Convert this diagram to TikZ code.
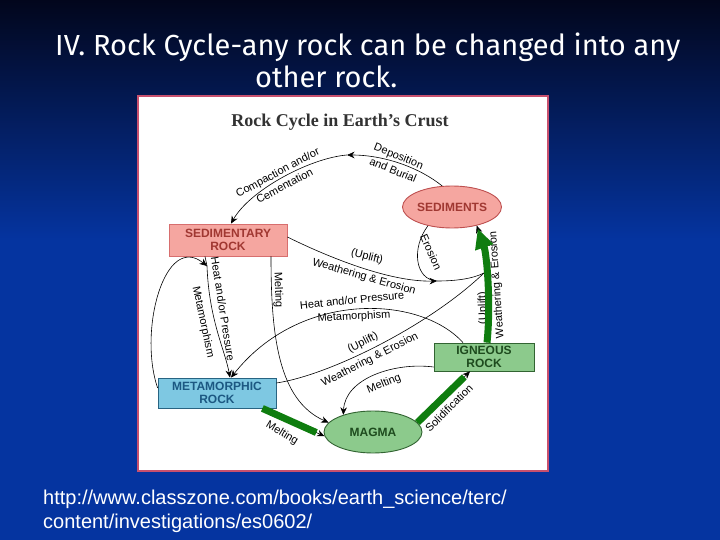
\documentclass[tikz,border=0pt]{standalone}
\usepackage{fontspec}
\setmainfont{Liberation Sans}
\newfontfamily\serifb{Liberation Serif}
\newfontfamily\titlef{Fira Sans}
\usetikzlibrary{arrows.meta,shapes.geometric,calc}
\definecolor{bgtop}{RGB}{2,6,28}
\definecolor{bgbot}{RGB}{5,52,160}
\definecolor{framec}{RGB}{200,80,110}
\definecolor{sedfill}{RGB}{245,166,160}
\definecolor{seddraw}{RGB}{190,80,80}
\definecolor{sedbox}{RGB}{215,110,110}
\definecolor{sedtext}{RGB}{160,56,50}
\definecolor{metfill}{RGB}{126,200,226}
\definecolor{metdraw}{RGB}{40,100,130}
\definecolor{mettext}{RGB}{28,88,130}
\definecolor{ignfill}{RGB}{140,202,140}
\definecolor{igndraw}{RGB}{50,100,50}
\definecolor{igntext}{RGB}{30,75,30}
\definecolor{gthick}{RGB}{15,125,15}
\definecolor{ttl}{RGB}{50,50,50}
\tikzset{
  conn/.style={draw=black, line width=0.6pt, -{Stealth[length=7.5pt,width=6.5pt]}},
  plain/.style={draw=black, line width=0.6pt},
  lbl/.style={font=\fontsize{11}{15}\selectfont, inner sep=0pt, align=center},
  gline/.style={draw=gthick, line width=7pt},
  nodetxt/.style={font=\bfseries\fontsize{12}{13}\selectfont, align=center, inner sep=0pt},
  ellnode/.style={ellipse, nodetxt, line width=0.9pt, minimum width=98pt, minimum height=42pt},
  boxnode/.style={rectangle, nodetxt, line width=0.8pt},
  slidetxt/.style={anchor=base west, text=white, inner sep=0pt}
}
\begin{document}
\begin{tikzpicture}[x=1pt,y=-1pt]
\useasboundingbox (0,0) rectangle (720,540);
% background
\shade[top color=bgtop, bottom color=bgbot] (0,0) rectangle (720,240);
\fill[bgbot] (0,239.5) rectangle (720,540);
% slide title
\node[slidetxt, font=\titlef\fontsize{29}{32}\selectfont] (t1) at (55,56) {IV. Rock Cycle-any rock can be changed into any};
\node[slidetxt, font=\titlef\fontsize{29}{32}\selectfont] (t2) at (255,88) {other rock.};
% url
\node[slidetxt, font=\fontsize{20}{23}\selectfont] (u1) at (43,504) {http://www.classzone.com/books/earth\_science/terc/};
\node[slidetxt, font=\fontsize{20}{23}\selectfont] (u2) at (43,528) {content/investigations/es0602/};
% diagram frame
\draw[framec, line width=1.5pt, fill=white] (138,96) rectangle (548,471);
\node[font=\serifb\bfseries\fontsize{18}{20}\selectfont, text=ttl, inner sep=0pt] (dt) at (340,122) {Rock Cycle in Earth’s Crust};
% nodes
\node[ellnode, fill=sedfill, draw=seddraw, text=sedtext] (sed) at (452,207) {SEDIMENTS};
\node[boxnode, fill=sedfill, draw=sedbox, text=sedtext, minimum width=118pt, minimum height=32pt] (sedr) at (228,240) {SEDIMENTARY\\ROCK};
\node[boxnode, fill=metfill, draw=metdraw, text=mettext, minimum width=118pt, minimum height=30pt] (met) at (217,393) {METAMORPHIC\\ROCK};
\node[boxnode, fill=ignfill, draw=igndraw, text=igntext, minimum width=100pt, minimum height=28pt] (ign) at (484,357) {IGNEOUS\\ROCK};
\node[ellnode, fill=ignfill, draw=igndraw, text=igntext] (mag) at (373,432) {MAGMA};
% junctions
\coordinate (dep) at (347,155);
\coordinate (jA) at (437,281);
\coordinate (jB) at (484,273);
\coordinate (jC) at (207,266);
% 1 sediments -> sedimentary rock
\draw[conn] (sed.115) .. controls (420,168) and (385,155) .. (dep);
\draw[conn] (dep) .. controls (310,158) and (250,190) .. ($(sedr.north)+(3,0)$);
\node[lbl, rotate=-22] (l1) at (396,163) {Deposition\\and Burial};
\node[lbl, rotate=28] (l2) at (281,179) {Compaction and/or\\Cementation};
% 2 sedimentary rock -> weathering
\draw[conn] ($(sedr.east)+(0,-3)$) .. controls (330,258) and (390,282) .. (jA);
\draw[plain] (jA) .. controls (455,281) and (472,279) .. (jB);
\node[lbl, rotate=-14] (l3) at (367,257) {(Uplift)};
\node[lbl, rotate=-16] (l4) at (364,277) {Weathering \& Erosion};
% 3 erosion loop
\draw[plain] (sed.218) .. controls (411,248) and (415,280) .. (jA);
\node[lbl, rotate=-66] (l5) at (431,252) {Erosion};
% 5 metamorphic -> weathering
\draw[plain] ($(met.east)+(0,-10)$) .. controls (330,375) and (430,325) .. (jB);
\node[lbl, rotate=27] (l6) at (363,343) {(Uplift)};
\node[lbl, rotate=27] (l7) at (370,360) {Weathering \& Erosion};
% 6 igneous -> metamorphic
\draw[conn] ($(ign.north)+(-21,0)$) .. controls (420,295) and (300,290) .. ($(met.north)+(14,0)$);
\node[lbl, rotate=6] (l8) at (352,300) {Heat and/or Pressure};
\node[lbl, rotate=3] (l9) at (354,317) {Metamorphism};
% 7 sedimentary -> metamorphic, and metamorphic loop
\draw[plain] ($(sedr.south)+(-23,0)$) -- (jC);
\draw[conn] (jC) .. controls (209,320) and (225,350) .. ($(met.north)+(13,0)$);
\draw[conn] ($(met.west)+(0,-5)$) .. controls (138,330) and (165,232) .. (jC);
\node[lbl, rotate=-81] (l10) at (223,309) {Heat and/or Pressure};
\node[lbl, rotate=-78] (l11) at (203,322) {Metamorphism};
% 8 sedimentary -> magma
\draw[conn] ($(sedr.south)+(43,0)$) .. controls (271,335) and (278,400) .. (mag.168);
\node[lbl, rotate=-88] (l12) at (278,290) {Melting};
% 9 igneous -> magma
\draw[conn] ($(ign.west)+(0,10)$) .. controls (395,362) and (345,378) .. (mag.150);
\node[lbl, rotate=22] (l13) at (384,384) {Melting};
% 10 metamorphic -> magma
\draw[conn] ($(met.south east)+(-14,0)$) -- (mag.185);
\draw[gline, shorten >=9pt] ($(met.south east)+(-14,0)$) -- (mag.185);
\node[lbl, rotate=-31] (l14) at (282,433) {Melting};
% 11 magma -> igneous
\draw[conn] (mag.12) -- ($(ign.south)+(-14,0)$);
\draw[gline, shorten >=8pt] (mag.12) -- ($(ign.south)+(-14,0)$);
\node[lbl, rotate=45] (l15) at (449,408) {Solidification};
% 4 igneous -> sediments (green)
\node[lbl, rotate=92] (l16) at (483,308) {(Uplift)};
\node[lbl, rotate=94] (l17) at (497,285) {Weathering \& Erosion};
\draw[conn] ($(ign.north)+(3,0)$) .. controls (491,305) and (487,255) .. (sed.-37);
\draw[gline, shorten >=3pt, -{Triangle[length=20pt,width=18pt]}] ($(ign.north)+(3,0)$) .. controls (491,305) and (487,255) .. (sed.-37);
\end{tikzpicture}
\end{document}
